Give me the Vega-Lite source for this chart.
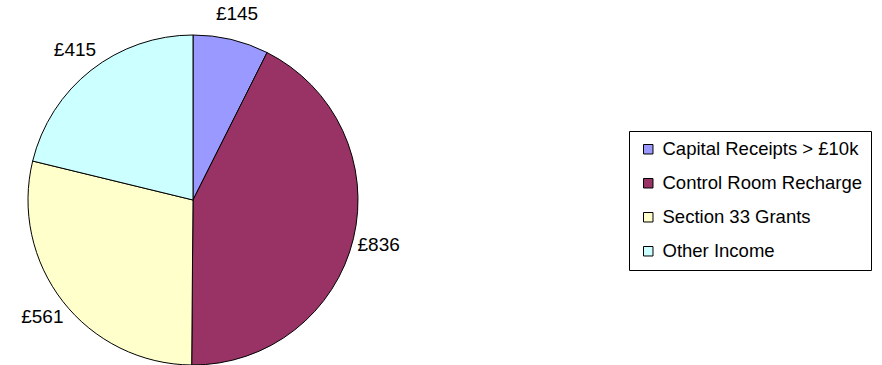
{
  "$schema": "https://vega.github.io/schema/vega-lite/v6.json",
  "width": 386,
  "height": 330,
  "autosize": {"type": "none"},
  "padding": {"top": 35, "left": 0, "right": 496, "bottom": 0},
  "background": "white",
  "config": {"view": {"stroke": null}, "font": "Liberation Sans"},
  "data": {"values": [
    {"i": 1, "cat": "Capital Receipts > £10k", "v": 145, "lbl": "£145"},
    {"i": 2, "cat": "Control Room Recharge", "v": 836, "lbl": "£836"},
    {"i": 3, "cat": "Section 33 Grants", "v": 561, "lbl": "£561"},
    {"i": 4, "cat": "Other Income", "v": 415, "lbl": "£415"}
  ]},
  "encoding": {
    "theta": {"field": "v", "type": "quantitative", "stack": true},
    "order": {"field": "i", "type": "quantitative"}
  },
  "layer": [
    {
      "mark": {"type": "arc", "outerRadius": 165, "stroke": "black", "strokeWidth": 1},
      "encoding": {
        "color": {
          "field": "cat", "type": "nominal",
          "scale": {
            "domain": ["Capital Receipts > £10k", "Control Room Recharge", "Section 33 Grants", "Other Income"],
            "range": ["#9999FF", "#993366", "#FFFFCC", "#CCFFFF"]
          },
          "legend": {
            "title": null, "orient": "none", "legendX": 629, "legendY": 96,
            "symbolType": "square", "symbolSize": 90, "symbolStrokeColor": "black", "symbolStrokeWidth": 1,
            "labelFontSize": 18.5, "labelColor": "black", "labelFont": "Liberation Sans",
            "labelExpr": "datum.label + '\u00a0\u00a0\u00a0\u00a0\u00a0\u00a0'",
            "rowPadding": 15, "padding": 9, "strokeColor": "black", "fillColor": "white",
            "cornerRadius": 0, "labelLimit": 500, "symbolOffset": 1, "labelOffset": 5
          }
        }
      }
    },
    {
      "mark": {"type": "text", "radius": 191, "fontSize": 19, "font": "Liberation Sans", "color": "black"},
      "encoding": {"text": {"field": "lbl"}}
    }
  ]
}
